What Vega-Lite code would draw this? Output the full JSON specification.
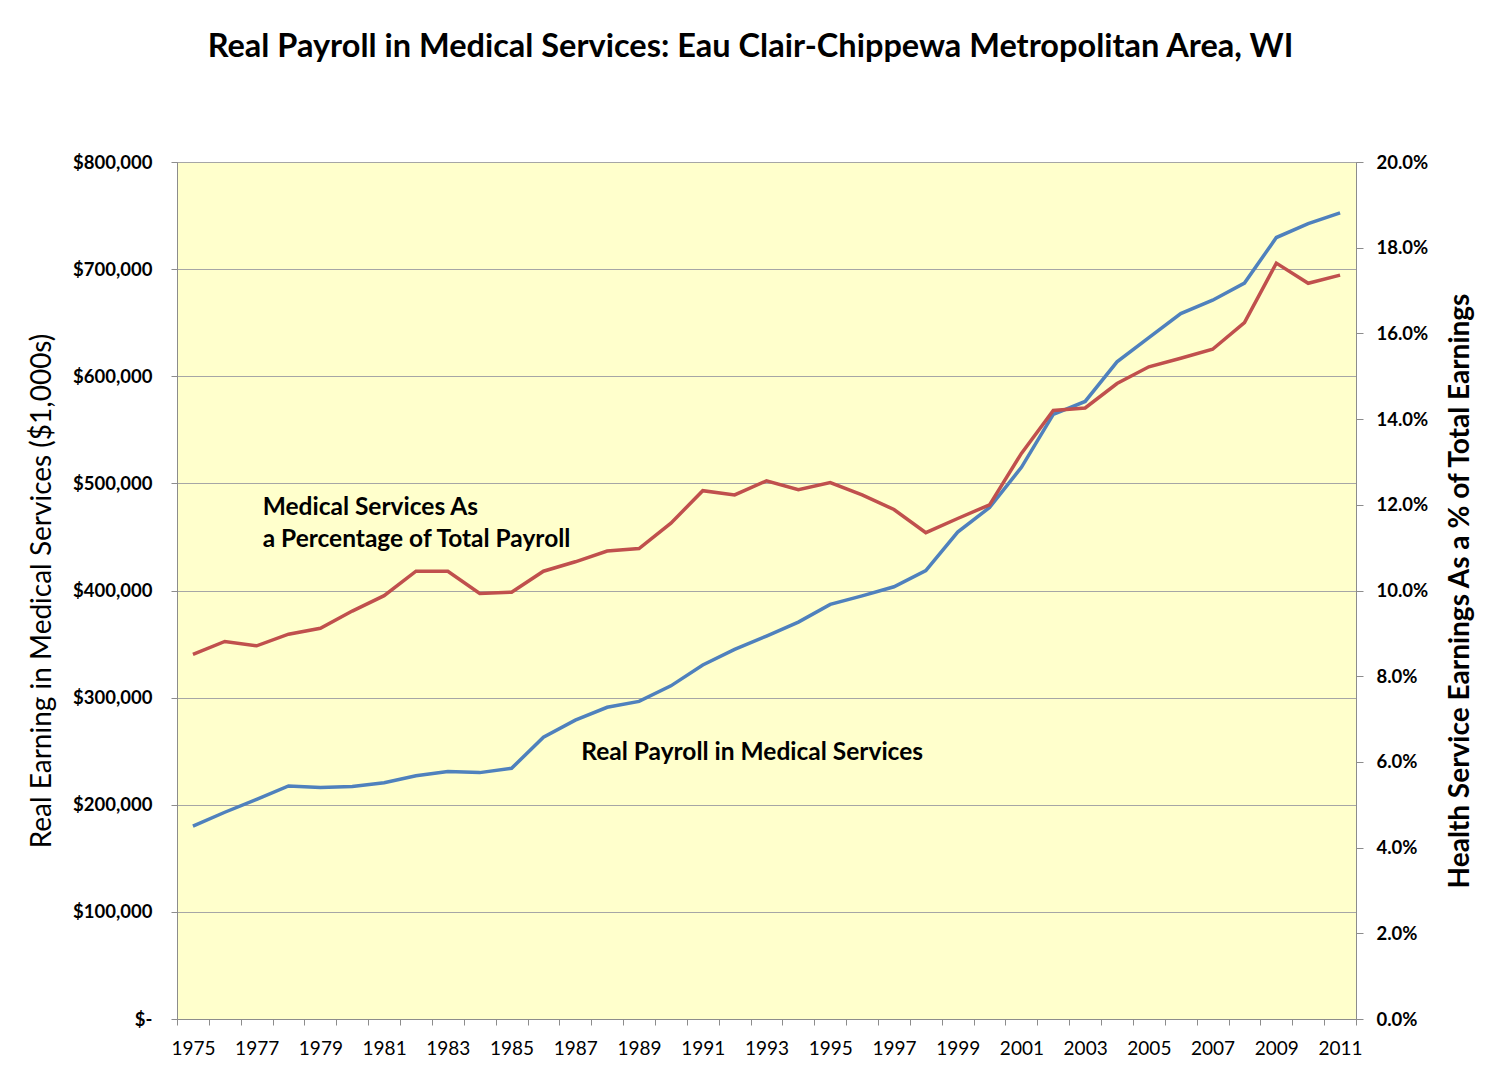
{
  "$schema": "https://vega.github.io/schema/vega-lite/v6.json",
  "width": 1179,
  "height": 857,
  "autosize": {"type": "none"},
  "padding": {"left": 177, "top": 162, "right": 145, "bottom": 62},
  "background": "white",
  "config": {
    "font": "Lato",
    "view": {"fill": "#FFFFCC", "stroke": "#8C8C8C", "strokeWidth": 1}
  },
  "title": {
    "text": "Real Payroll in Medical Services: Eau Clair-Chippewa Metropolitan Area, WI",
    "fontSize": 32.5,
    "fontWeight": "bold",
    "color": "black",
    "anchor": "middle",
    "dx": -16,
    "offset": 90
  },
  "datasets": {
    "series": [
      {"year": 1975, "payroll": 180000, "pct": 0.0851},
      {"year": 1976, "payroll": 193000, "pct": 0.0881},
      {"year": 1977, "payroll": 205000, "pct": 0.0871},
      {"year": 1978, "payroll": 217500, "pct": 0.0898},
      {"year": 1979, "payroll": 216000, "pct": 0.0912},
      {"year": 1980, "payroll": 217000, "pct": 0.0952},
      {"year": 1981, "payroll": 220500, "pct": 0.0988},
      {"year": 1982, "payroll": 227000, "pct": 0.1045},
      {"year": 1983, "payroll": 231000, "pct": 0.1045},
      {"year": 1984, "payroll": 230000, "pct": 0.0993},
      {"year": 1985, "payroll": 234000, "pct": 0.0996},
      {"year": 1986, "payroll": 263000, "pct": 0.1045},
      {"year": 1987, "payroll": 279000, "pct": 0.1067},
      {"year": 1988, "payroll": 291000, "pct": 0.1092},
      {"year": 1989, "payroll": 296500, "pct": 0.1098},
      {"year": 1990, "payroll": 311000, "pct": 0.1157},
      {"year": 1991, "payroll": 330500, "pct": 0.1233},
      {"year": 1992, "payroll": 345000, "pct": 0.1223},
      {"year": 1993, "payroll": 357500, "pct": 0.1256},
      {"year": 1994, "payroll": 370500, "pct": 0.1235},
      {"year": 1995, "payroll": 387000, "pct": 0.1252},
      {"year": 1996, "payroll": 395000, "pct": 0.1223},
      {"year": 1997, "payroll": 403500, "pct": 0.1189},
      {"year": 1998, "payroll": 418500, "pct": 0.1135},
      {"year": 1999, "payroll": 454500, "pct": 0.1168},
      {"year": 2000, "payroll": 477500, "pct": 0.1200},
      {"year": 2001, "payroll": 515000, "pct": 0.1320},
      {"year": 2002, "payroll": 564500, "pct": 0.1420},
      {"year": 2003, "payroll": 576500, "pct": 0.1426},
      {"year": 2004, "payroll": 613500, "pct": 0.1483},
      {"year": 2005, "payroll": 636000, "pct": 0.1522},
      {"year": 2006, "payroll": 658500, "pct": 0.1542},
      {"year": 2007, "payroll": 671000, "pct": 0.1563},
      {"year": 2008, "payroll": 687000, "pct": 0.1625},
      {"year": 2009, "payroll": 729500, "pct": 0.1764},
      {"year": 2010, "payroll": 742500, "pct": 0.1717},
      {"year": 2011, "payroll": 752500, "pct": 0.1736}
    ],
    "notes": [
      {"year": 1977, "payroll": 477000, "label": "Medical Services As"},
      {"year": 1977, "payroll": 447000, "label": "a Percentage of Total Payroll"},
      {"year": 1987, "payroll": 248000, "label": "Real Payroll in Medical Services"}
    ]
  },
  "layer": [
    {
      "data": {"name": "series"},
      "mark": {"type": "line", "color": "#4F81BD", "strokeWidth": 3.5},
      "encoding": {
        "x": {
          "field": "year",
          "type": "ordinal",
          "bandPosition": 0.5,
          "scale": {"type": "band", "paddingInner": 0, "paddingOuter": 0},
          "axis": {
            "title": null,
            "labelAngle": 0,
            "tickBand": "extent",
            "labelExpr": "datum.value % 2 == 1 ? datum.label : ''",
            "labelFontSize": 19,
            "labelColor": "black",
            "labelPadding": 14,
            "tickSize": 6,
            "tickColor": "#8C8C8C",
            "domainColor": "#8C8C8C"
          }
        },
        "y": {
          "field": "payroll",
          "type": "quantitative",
          "scale": {"domain": [0, 800000], "nice": false},
          "axis": {
            "title": "Real Earning in Medical Services ($1,000s)",
            "titleFontSize": 28,
            "titleFontWeight": "normal",
            "titleColor": "black",
            "titlePadding": 16,
            "values": [0, 100000, 200000, 300000, 400000, 500000, 600000, 700000, 800000],
            "labelExpr": "datum.value == 0 ? '$-' : '$' + format(datum.value, ',')",
            "labelFontSize": 18.5,
            "labelFontWeight": "bold",
            "labelColor": "black",
            "labelPadding": 19,
            "tickSize": 6,
            "tickColor": "#8C8C8C",
            "domainColor": "#8C8C8C",
            "grid": true,
            "gridColor": "#A6A6A6",
            "gridWidth": 1
          }
        }
      }
    },
    {
      "data": {"name": "notes"},
      "mark": {"type": "text", "align": "left", "baseline": "middle", "fontSize": 24.5, "fontWeight": "bold", "color": "black", "dx": 6},
      "encoding": {
        "x": {"field": "year", "type": "ordinal", "bandPosition": 0.5},
        "y": {"field": "payroll", "type": "quantitative", "scale": {"domain": [0, 800000], "nice": false}, "axis": null},
        "text": {"field": "label"}
      }
    },
    {
      "data": {"name": "series"},
      "mark": {"type": "line", "color": "#C0504D", "strokeWidth": 3.5},
      "encoding": {
        "x": {"field": "year", "type": "ordinal", "bandPosition": 0.5},
        "y": {
          "field": "pct",
          "type": "quantitative",
          "scale": {"domain": [0, 0.2], "nice": false},
          "axis": {
            "orient": "right",
            "title": "Health Service Earnings As a % of  Total Earnings",
            "titleAngle": 270,
            "titleFontSize": 28,
            "titleFontWeight": "bold",
            "titleColor": "black",
            "titlePadding": 47,
            "values": [0, 0.02, 0.04, 0.06, 0.08, 0.1, 0.12, 0.14, 0.16, 0.18, 0.2],
            "format": ".1%",
            "labelFontSize": 18.5,
            "labelFontWeight": "bold",
            "labelColor": "black",
            "labelPadding": 13,
            "tickSize": 7,
            "tickColor": "#8C8C8C",
            "domainColor": "#8C8C8C",
            "grid": false
          }
        }
      }
    }
  ],
  "resolve": {"scale": {"y": "independent"}}
}
